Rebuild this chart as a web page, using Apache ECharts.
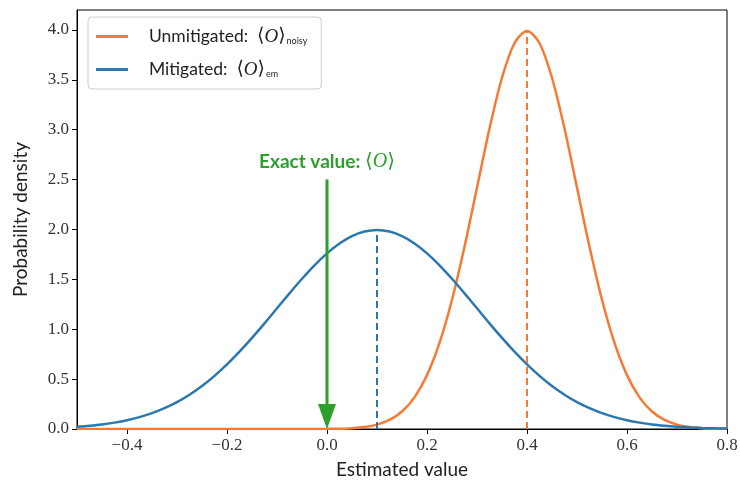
<!DOCTYPE html>
<html>
<head>
<meta charset="utf-8">
<script src="https://cdn.jsdelivr.net/npm/echarts@6/dist/echarts.min.js"></script>
<style>
  html, body { margin: 0; padding: 0; background: #fff; }
  #chart { width: 740px; height: 486px; }
</style>
</head>
<body>
<div id="chart"></div>
<script>
// Estimated values on the x grid (step 0.025)
const xGrid = [
  -0.5, -0.475, -0.45, -0.425, -0.4, -0.375, -0.35, -0.325, -0.3, -0.275,
  -0.25, -0.225, -0.2, -0.175, -0.15, -0.125, -0.1, -0.075, -0.05, -0.025,
  0, 0.025, 0.05, 0.075, 0.1, 0.125, 0.15, 0.175, 0.2, 0.225,
  0.25, 0.275, 0.3, 0.325, 0.35, 0.375, 0.4, 0.425, 0.45, 0.475,
  0.5, 0.525, 0.55, 0.575, 0.6, 0.625, 0.65, 0.675, 0.7, 0.725,
  0.75, 0.775, 0.8
];

// Probability density of the unmitigated estimator
const unmitigated = [
  0, 0, 0, 0, 0, 0, 0, 0, 0, 0,
  0, 0, 0, 0, 0, 0, 0, 0, 0.0002, 0.0005,
  0.0013, 0.0035, 0.0087, 0.0203, 0.0443, 0.0909, 0.1753, 0.3174, 0.5399, 0.8628,
  1.2952, 1.8265, 2.4197, 3.0114, 3.5207, 3.8667, 3.9894, 3.8667, 3.5207, 3.0114,
  2.4197, 1.8265, 1.2952, 0.8628, 0.5399, 0.3174, 0.1753, 0.0909, 0.0443, 0.0203,
  0.0087, 0.0035, 0.0013
];

// Probability density of the mitigated estimator
const mitigated = [
  0.022, 0.032, 0.045, 0.064, 0.088, 0.119, 0.159, 0.209, 0.270, 0.344,
  0.431, 0.533, 0.648, 0.775, 0.913, 1.059, 1.210, 1.360, 1.506, 1.641,
  1.760, 1.859, 1.933, 1.979, 1.995, 1.979, 1.933, 1.859, 1.760, 1.641,
  1.506, 1.360, 1.210, 1.059, 0.913, 0.775, 0.648, 0.533, 0.431, 0.344,
  0.270, 0.209, 0.159, 0.119, 0.088, 0.064, 0.045, 0.032, 0.022, 0.015,
  0.010, 0.007, 0.004
];

// Means and peak heights of the two estimators
const unmitigatedMean = 0.4, unmitigatedPeak = 3.9894;
const mitigatedMean = 0.1, mitigatedPeak = 1.995;

// Exact value arrow: x position, top of shaft, label height
const exactValue = 0;
const arrowTop = 2.5;
const exactLabelY = 2.68;

const xTicks = [-0.4, -0.2, 0.0, 0.2, 0.4, 0.6, 0.8];
const yTicks = [0.0, 0.5, 1.0, 1.5, 2.0, 2.5, 3.0, 3.5, 4.0];

const ORANGE = '#f57a35';
const BLUE = '#2b77b0';
const GREEN = '#2ca02c';
const SANS = 'Lato, "DejaVu Sans", sans-serif';
const SERIF = '"Liberation Serif", "DejaVu Serif", serif';

const pairs = (ys) => xGrid.map((x, i) => [x, ys[i]]);
const fmt = (v) => v.toFixed(1).replace('-', '\u2212');

const chart = echarts.init(document.getElementById('chart'), null, { renderer: 'canvas' });

chart.setOption({
  animation: false,
  backgroundColor: '#fff',
  grid: {
    left: 77, right: 13, top: 10, bottom: 57,
    show: true, borderColor: '#000', borderWidth: 1,
    backgroundColor: 'transparent',
    outerBoundsMode: 'none'
  },
  legend: {
    orient: 'vertical',
    left: 88, top: 17,
    padding: [10, 14, 10, 8],
    itemGap: 14,
    itemWidth: 32, itemHeight: 3,
    icon: 'rect',
    borderColor: '#cccccc', borderWidth: 1, borderRadius: 4,
    backgroundColor: 'rgba(255,255,255,0.85)',
    data: ['Unmitigated', 'Mitigated'],
    formatter: (name) => name === 'Unmitigated'
      ? '{t|Unmitigated:  }{m|\u27E8}{o|O}{m|\u27E9}{s|noisy}'
      : '{t|Mitigated:  }{m|\u27E8}{o|O}{m|\u27E9}{s|em}',
    textStyle: {
      color: '#222',
      rich: {
        t: { fontFamily: SANS, fontSize: 17.5, color: '#222', padding: [0, 0, 0, 16] },
        m: { fontFamily: SERIF, fontSize: 19, color: '#222' },
        o: { fontFamily: SERIF, fontSize: 19, fontStyle: 'italic', color: '#222' },
        s: { fontFamily: SANS, fontSize: 9, color: '#222', verticalAlign: 'bottom', padding: [8, 0, 0, 1] }
      }
    }
  },
  xAxis: {
    type: 'value',
    min: -0.5, max: 0.8,
    name: 'Estimated value',
    nameLocation: 'middle',
    nameGap: 31,
    nameTextStyle: { fontFamily: SANS, fontSize: 19, color: '#222' },
    axisLine: { show: true, onZero: false, lineStyle: { color: '#000', width: 1 } },
    axisTick: { show: true, inside: false, length: 5, customValues: xTicks, lineStyle: { color: '#000' } },
    axisLabel: {
      customValues: xTicks, formatter: fmt, margin: 8,
      fontFamily: SERIF, fontSize: 17, color: '#333'
    },
    splitLine: { show: false }
  },
  yAxis: {
    type: 'value',
    min: 0, max: 4.2,
    name: 'Probability density',
    nameLocation: 'middle',
    nameGap: 47,
    nameTextStyle: { fontFamily: SANS, fontSize: 19, color: '#222' },
    axisLine: { show: true, onZero: false, lineStyle: { color: '#000', width: 1 } },
    axisTick: { show: true, inside: false, length: 5, customValues: yTicks, lineStyle: { color: '#000' } },
    axisLabel: {
      customValues: yTicks, formatter: fmt, margin: 8,
      fontFamily: SERIF, fontSize: 17, color: '#333'
    },
    splitLine: { show: false }
  },
  series: [
    {
      name: 'Unmitigated',
      type: 'line',
      data: pairs(unmitigated),
      smooth: 0.3,
      showSymbol: false,
      color: ORANGE,
      lineStyle: { color: ORANGE, width: 2.5 },
      z: 3,
      markLine: {
        silent: true, symbol: 'none',
        label: { show: false },
        lineStyle: { color: ORANGE, width: 2, type: [7, 4] },
        data: [[{ coord: [unmitigatedMean, 0] }, { coord: [unmitigatedMean, unmitigatedPeak] }]]
      }
    },
    {
      name: 'Mitigated',
      type: 'line',
      data: pairs(mitigated),
      smooth: 0.3,
      showSymbol: false,
      color: BLUE,
      lineStyle: { color: BLUE, width: 2.5 },
      z: 4,
      markLine: {
        silent: true, symbol: 'none',
        label: { show: false },
        lineStyle: { color: BLUE, width: 2, type: [7, 4] },
        data: [[{ coord: [mitigatedMean, 0] }, { coord: [mitigatedMean, mitigatedPeak] }]]
      }
    },
    {
      // exact value arrow shaft and caption
      name: 'Exact',
      type: 'line',
      data: [[exactValue, arrowTop], [exactValue, 0.2]],
      showSymbol: false,
      lineStyle: { color: GREEN, width: 3 },
      z: 5,
      markPoint: {
        symbol: 'rect', symbolSize: 0,
        silent: true,
        data: [{ coord: [exactValue, exactLabelY] }],
        label: {
          show: true, position: 'inside',
          formatter: '{b|Exact value: }{m|\u27E8}{o|O}{m|\u27E9}',
          rich: {
            b: { fontFamily: SANS, fontSize: 19, fontWeight: 'bold', color: GREEN },
            m: { fontFamily: SERIF, fontSize: 20, color: GREEN },
            o: { fontFamily: SERIF, fontSize: 20, fontStyle: 'italic', color: GREEN }
          }
        }
      }
    },
    {
      // arrow head pointing down at the exact value
      name: 'ExactHead',
      type: 'scatter',
      data: [[exactValue, 0.125]],
      symbol: 'triangle',
      symbolRotate: 180,
      symbolSize: [18, 25],
      itemStyle: { color: GREEN, opacity: 1 },
      silent: true,
      z: 5
    }
  ]
});
</script>
</body>
</html>
